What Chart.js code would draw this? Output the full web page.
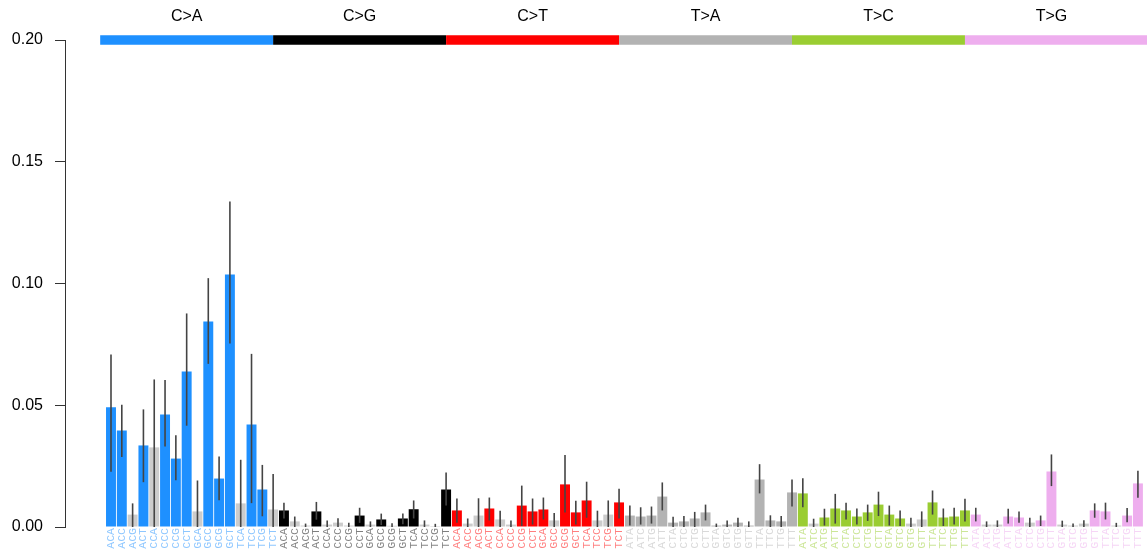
<!DOCTYPE html>
<html>
<head>
<meta charset="utf-8">
<script src="https://cdn.jsdelivr.net/npm/chart.js@4/dist/chart.umd.min.js"></script>
<style>
  html, body { margin: 0; padding: 0; background: #ffffff; }
  #wrap { width: 1147px; height: 554px; }
</style>
</head>
<body>
<div id="wrap"><canvas id="c" width="1147" height="554"></canvas></div>
<script>
// ---- Data ----
const mutationTypes = ['C>A', 'C>G', 'C>T', 'T>A', 'T>C', 'T>G'];
const typeColors = ['#1E90FF', '#000000', '#FF0000', '#B3B3B3', '#9ACD32', '#EEAEEE'];
const labelColors = ['rgba(30,144,255,0.5)', 'rgba(0,0,0,0.5)', 'rgba(255,0,0,0.5)', 'rgba(179,179,179,0.5)', 'rgba(154,205,50,0.5)', 'rgba(238,174,238,0.5)'];
const nonSigColor = '#CCCCCC';

const contextsC = ['ACA','ACC','ACG','ACT','CCA','CCC','CCG','CCT','GCA','GCC','GCG','GCT','TCA','TCC','TCG','TCT'];
const contextsT = ['ATA','ATC','ATG','ATT','CTA','CTC','CTG','CTT','GTA','GTC','GTG','GTT','TTA','TTC','TTG','TTT'];

const valCA = [0.0492,0.0396,0.0051,0.0335,0.0327,0.0462,0.0281,0.0639,0.0064,0.0844,0.0199,0.1037,0.0097,0.0421,0.0154,0.0072];
const loCA  = [0.0227,0.0287,0,0.0184,0,0.0331,0.0192,0.0416,0,0.0670,0.0110,0.0754,0,0.0098,0.0044,0];
const hiCA  = [0.0708,0.0502,0.0097,0.0483,0.0606,0.0604,0.0377,0.0877,0.0191,0.1022,0.0290,0.1337,0.0276,0.0711,0.0255,0.0218];
const sigCA = [1,1,0,1,0,1,1,1,0,1,1,1,0,1,1,0];

const valCG = [0.0068,0.0023,0.0006,0.0064,0.0010,0.0018,0.0006,0.0047,0.0010,0.0031,0.0005,0.0035,0.0073,0.0010,0.0004,0.0154];
const loCG  = [0.0035,0,0,0.0030,0,0,0,0.0017,0,0.0008,0,0.0011,0.0035,0,0,0.0088];
const hiCG  = [0.0100,0.0043,0.0014,0.0103,0.0027,0.0036,0.0017,0.0079,0.0023,0.0055,0.0015,0.0055,0.0109,0.0027,0.0013,0.0224];
const sigCG = [1,0,0,1,0,0,0,1,0,1,0,1,1,0,0,1];

const valCT = [0.0068,0.0014,0.0047,0.0076,0.0031,0.0010,0.0088,0.0064,0.0072,0.0027,0.0175,0.0060,0.0109,0.0027,0.0051,0.0101];
const loCT  = [0.0017,0,0,0.0027,0,0,0.0004,0.0010,0.0031,0,0.0060,0.0010,0.0038,0,0,0.0035];
const hiCT  = [0.0117,0.0035,0.0118,0.0121,0.0067,0.0027,0.0170,0.0117,0.0121,0.0058,0.0296,0.0108,0.0186,0.0067,0.0109,0.0157];
const sigCT = [1,0,0,1,0,0,1,1,1,0,1,1,1,0,0,1];

const valTA = [0.0047,0.0043,0.0047,0.0125,0.0018,0.0023,0.0035,0.0060,0.0006,0.0010,0.0018,0.0006,0.0195,0.0027,0.0023,0.0142];
const loTA  = [0.0006,0.0010,0.0014,0.0068,0,0,0,0.0027,0,0,0,0,0.0138,0,0,0.0084];
const hiTA  = [0.0088,0.0081,0.0084,0.0183,0.0042,0.0045,0.0062,0.0092,0.0014,0.0027,0.0038,0.0023,0.0258,0.0048,0.0045,0.0195];
const sigTA = [1,1,1,1,1,1,1,1,1,1,1,1,1,1,1,1];

const valTC = [0.0138,0.0014,0.0039,0.0076,0.0068,0.0043,0.0060,0.0092,0.0051,0.0035,0.0014,0.0031,0.0101,0.0039,0.0043,0.0068];
const loTC  = [0.0081,0,0.0006,0.0014,0.0031,0.0010,0.0025,0.0045,0.0006,0.0004,0,0,0.0051,0.0004,0.0010,0.0023];
const hiTC  = [0.0200,0.0034,0.0075,0.0136,0.0100,0.0076,0.0092,0.0145,0.0088,0.0068,0.0038,0.0064,0.0150,0.0076,0.0079,0.0116];
const sigTC = [1,0,1,1,1,1,1,1,1,1,0,0,1,1,1,1];

const valTG = [0.0051,0.0010,0.0010,0.0043,0.0039,0.0018,0.0027,0.0228,0.0010,0.0006,0.0014,0.0068,0.0064,0.0006,0.0047,0.0179];
const loTG  = [0.0023,0,0,0.0014,0.0017,0,0.0004,0.0168,0,0,0,0.0038,0.0031,0,0.0020,0.0120];
const hiTG  = [0.0079,0.0023,0.0027,0.0075,0.0064,0.0038,0.0047,0.0298,0.0026,0.0014,0.0028,0.0097,0.0100,0.0017,0.0078,0.0231];
const sigTG = [1,0,0,1,1,0,1,1,0,0,0,1,1,0,1,1];

const yTicks = [0, 0.05, 0.10, 0.15, 0.20];

// ---- Assemble ----
const categories = [].concat(contextsC, contextsC, contextsC, contextsT, contextsT, contextsT);
const values = [].concat(valCA, valCG, valCT, valTA, valTC, valTG);
const errLow = [].concat(loCA, loCG, loCT, loTA, loTC, loTG);
const errHigh = [].concat(hiCA, hiCG, hiCT, hiTA, hiTC, hiTG);
const significant = [].concat(sigCA, sigCG, sigCT, sigTA, sigTC, sigTG);
const perType = 16;
const typeIndex = categories.map((_, i) => Math.floor(i / perType));
const barColors = values.map((_, i) => significant[i] ? typeColors[typeIndex[i]] : nonSigColor);
const tickColors = categories.map((_, i) => labelColors[typeIndex[i]]);

const points = values.map((v, i) => ({ x: i, y: v }));

const errorBarPlugin = {
  id: 'errorBars',
  afterDatasetsDraw(chart) {
    const { ctx, scales: { x, y } } = chart;
    ctx.save();
    ctx.strokeStyle = '#444444';
    ctx.lineWidth = 1.6;
    for (let i = 0; i < values.length; i++) {
      const px = x.getPixelForValue(i);
      ctx.beginPath();
      ctx.moveTo(px, y.getPixelForValue(errLow[i]));
      ctx.lineTo(px, y.getPixelForValue(errHigh[i]));
      ctx.stroke();
    }
    ctx.restore();
  }
};

const headerPlugin = {
  id: 'header',
  afterDraw(chart) {
    const { ctx, scales: { x, y }, chartArea } = chart;
    const yTop = y.getPixelForValue(y.max);
    ctx.save();
    for (let k = 0; k < mutationTypes.length; k++) {
      const left = x.getPixelForValue(k * perType - 1);
      const right = k === mutationTypes.length - 1 ? chartArea.right : x.getPixelForValue(k * perType + perType - 1);
      ctx.fillStyle = typeColors[k];
      ctx.fillRect(left, yTop - 4.75, right - left, 9.5);
      ctx.fillStyle = '#000000';
      ctx.font = '16px "Liberation Sans", Arial, sans-serif';
      ctx.textAlign = 'center';
      ctx.textBaseline = 'middle';
      const mid = (x.getPixelForValue(k * perType - 1) + x.getPixelForValue(k * perType + perType - 1)) / 2;
      ctx.fillText(mutationTypes[k], mid, 17);
    }
    ctx.restore();
  }
};

new Chart(document.getElementById('c'), {
  type: 'bar',
  data: {
    datasets: [{
      data: points,
      backgroundColor: barColors,
      borderWidth: 0,
      barPercentage: 0.92,
      categoryPercentage: 1.0
    }]
  },
  options: {
    responsive: false,
    animation: false,
    devicePixelRatio: 1,
    layout: { padding: { top: 40, left: 11, right: 0, bottom: 0 } },
    plugins: { legend: { display: false }, tooltip: { enabled: false } },
    scales: {
      x: {
        type: 'linear',
        offset: false,
        min: -4.255,
        max: 95.84,
        grid: { display: false, drawTicks: false, offset: false },
        border: { display: false },
        afterBuildTicks(scale) {
          scale.ticks = categories.map((_, i) => ({ value: i }));
        },
        afterFit(scale) {
          scale.height = 27;
          scale.paddingLeft = 0;
          scale.paddingRight = 0;
        },
        ticks: {
          autoSkip: false,
          minRotation: 90,
          maxRotation: 90,
          padding: 1,
          font: { family: '"Liberation Mono", "DejaVu Sans Mono", monospace', size: 11.5 },
          color: (ctx) => tickColors[ctx.index],
          callback: (value) => categories[value]
        }
      },
      y: {
        min: 0,
        max: 0.2,
        afterBuildTicks(scale) {
          scale.ticks = yTicks.map(v => ({ value: v }));
        },
        afterFit(scale) {
          scale.width = 54;
          scale.paddingTop = 0;
          scale.paddingBottom = 0;
        },
        grid: { display: true, drawOnChartArea: false, drawTicks: true, tickLength: 10, color: '#333333', lineWidth: 1 },
        border: { display: true, color: '#333333', width: 1 },
        ticks: {
          padding: 12,
          color: '#000000',
          font: { family: '"Liberation Sans", Arial, sans-serif', size: 16 },
          callback: (v) => Number(v).toFixed(2)
        }
      }
    }
  },
  plugins: [errorBarPlugin, headerPlugin]
});
</script>
</body>
</html>
